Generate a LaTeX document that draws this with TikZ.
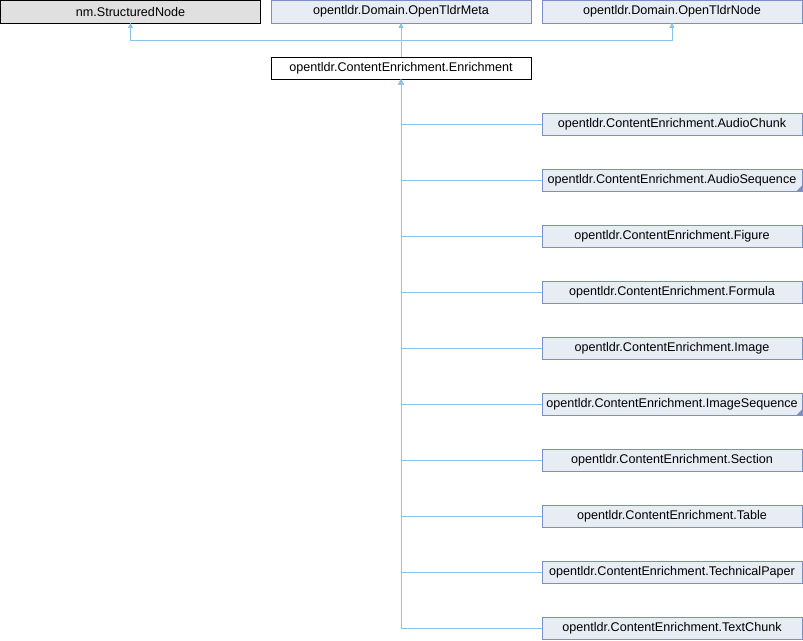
\documentclass[tikz,border=0pt]{standalone}
\usepackage{fontspec}
\setmainfont{Liberation Sans}
\usetikzlibrary{arrows.meta}
\definecolor{boxfill}{HTML}{E8ECF5}
\definecolor{boxline}{HTML}{7B8FC6}
\definecolor{greyfill}{HTML}{E0E0E0}
\definecolor{edgeblue}{HTML}{8CC4E8}
\tikzset{
  cls/.style={draw=boxline, fill=boxfill, minimum width=260pt, minimum height=22.5pt, inner sep=0pt, font=\fontsize{12.6}{14}\selectfont},
  extcls/.style={cls, draw=black, fill=greyfill},
  cur/.style={cls, draw=black, fill=white},
  inherit/.style={draw=edgeblue, line width=1pt, -{Triangle[length=5pt,width=5pt]}}
}
\begin{document}
\begin{tikzpicture}[x=1pt, y=-1pt]
      \useasboundingbox (0, 0) rectangle (803, 640);
      \node (sn) [extcls] at (130.5, 11.5) {nm.StructuredNode};
      \node (meta) [cls] at (401, 11.5) {opentldr.Domain.OpenTldrMeta};
      \node (otn) [cls] at (672, 11.5) {opentldr.Domain.OpenTldrNode};
      \node (enr) [cur] at (401, 68) {opentldr.ContentEnrichment.Enrichment};
      \coordinate (bus) at (401, 40);
      \draw[inherit] (enr.north) -- (meta.south);
      \draw[inherit] (enr.north) |- (bus) -| (sn.south);
      \draw[inherit] (enr.north) |- (bus) -| (otn.south);
      \foreach \n/\name in {0/AudioChunk, 1/AudioSequence, 2/Figure, 3/Formula, 4/Image,
                            5/ImageSequence, 6/Section, 7/Table, 8/TechnicalPaper, 9/TextChunk} {
        \node (c\n) [cls] at (672, 124 + 56*\n) {opentldr.ContentEnrichment.\name};
        \draw[inherit] (c\n.west) -| (enr.south);
      }
      % more children not shown
      \fill[boxline] (c1.south east) -- ++(-6, 0) -- ++(6, -6) -- cycle
                     (c5.south east) -- ++(-6, 0) -- ++(6, -6) -- cycle;
\end{tikzpicture}
\end{document}
